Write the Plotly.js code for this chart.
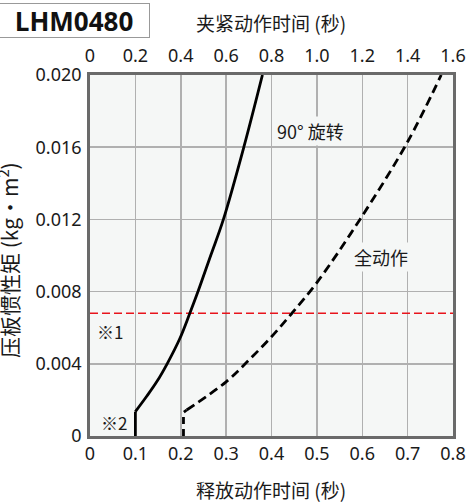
<!DOCTYPE html>
<html>
<head>
<meta charset="utf-8">
<script src="https://cdn.plot.ly/plotly-3.0.1.min.js"></script>
<style>html,body{margin:0;padding:0;background:#fff;}#chart{width:467px;height:502px;}</style>
</head>
<body>
<div id="chart"></div>
<script>
// Data (release time in seconds vs clamp arm inertia kg·m²)
const rotateStemX = [0.1, 0.1];
const rotateStemY = [0, 0.00135];
const rotateX = [0.1, 0.125, 0.147, 0.170, 0.198, 0.220, 0.238, 0.266, 0.294, 0.339, 0.380];
const rotateY = [0.00135, 0.0022, 0.0030, 0.0040, 0.0054, 0.0068, 0.0080, 0.0100, 0.0120, 0.0160, 0.0200];
const fullStemX = [0.206, 0.206, 0.213];
const fullStemY = [0, 0.0013, 0.00144];
const fullX = [0.213, 0.300, 0.350, 0.400, 0.445, 0.500, 0.595, 0.700, 0.774];
const fullY = [0.00144, 0.0030, 0.0042, 0.0055, 0.0068, 0.0085, 0.0120, 0.0163, 0.0200];
const limitY = 0.0068;
const limitX = [0, 0.8];

const bottomTicks = [0, 0.1, 0.2, 0.3, 0.4, 0.5, 0.6, 0.7, 0.8];
const bottomLabels = ["0", "0.1", "0.2", "0.3", "0.4", "0.5", "0.6", "0.7", "0.8"];
const topTicks = [0, 0.2, 0.4, 0.6, 0.8, 1.0, 1.2, 1.4, 1.6];
const topLabels = ["0", "0.2", "0.4", "0.6", "0.8", "1.0", "1.2", "1.4", "1.6"];
const yTicks = [0, 0.004, 0.008, 0.012, 0.016, 0.020];
const yLabels = ["0", "0.004", "0.008", "0.012", "0.016", "0.020"];

const FONT = "Noto Sans, Noto Sans CJK SC, sans-serif";
const CJK = "Noto Sans CJK SC, Noto Sans, sans-serif";
const BG = "#f5f7f6";
const INK = "#1a1a1a";

const traces = [
  {x: limitX, y: [limitY, limitY], mode: "lines", line: {color: "#e8141c", width: 1.3, dash: "8px,4px"}, hoverinfo: "skip"},
  {x: rotateStemX, y: rotateStemY, mode: "lines", line: {color: "#000", width: 2.8}},
  {x: rotateX, y: rotateY, mode: "lines", line: {color: "#000", width: 2.8, shape: "spline", smoothing: 1}},
  {x: fullStemX, y: fullStemY, mode: "lines", line: {color: "#000", width: 2.8, dash: "7px,5px"}},
  {x: fullX, y: fullY, mode: "lines", line: {color: "#000", width: 2.8, dash: "9px,5px", shape: "spline", smoothing: 1}},
  {x: [0], y: [0], xaxis: "x2", mode: "markers", marker: {opacity: 0}, hoverinfo: "skip"}
];

const axisLine = {showline: true, mirror: true, linecolor: "#6a6a6a", linewidth: 2.8};

const layout = {
  width: 467, height: 502,
  margin: {l: 90, r: 14, t: 75, b: 66, pad: 0},
  paper_bgcolor: "#fff",
  plot_bgcolor: BG,
  showlegend: false,
  font: {family: FONT, size: 18, color: INK},
  xaxis: Object.assign({
    range: [0, 0.8], tickvals: bottomTicks, ticktext: bottomLabels,
    showgrid: true, gridcolor: "#b0b0b0", gridwidth: 1.5, zeroline: false,
    ticks: "", tickfont: {family: FONT, size: 18, color: INK}
  }, axisLine),
  xaxis2: {
    range: [0, 1.6], overlaying: "x", side: "top", anchor: "y",
    tickvals: topTicks, ticktext: topLabels, showgrid: false, zeroline: false, showline: false,
    ticks: "outside", ticklen: 5, tickcolor: "rgba(0,0,0,0)", tickfont: {family: FONT, size: 18, color: INK}
  },
  yaxis: Object.assign({
    range: [0, 0.02], tickvals: yTicks, ticktext: yLabels,
    showgrid: true, gridcolor: "#b0b0b0", gridwidth: 1.5, zeroline: false,
    ticks: "outside", ticklen: 2, tickcolor: "rgba(0,0,0,0)", tickfont: {family: FONT, size: 18, color: INK}
  }, axisLine),
  annotations: [
    {xref: "paper", yref: "paper", x: (74 - 90) / 363, y: 1 + (75 - 20.5) / 361, xanchor: "center", yanchor: "middle",
     text: "<b>LHM0480</b>", showarrow: false, font: {family: "Open Sans, Noto Sans, sans-serif", size: 26, color: "#111"},
     bordercolor: "#999", borderwidth: 1, bgcolor: "#fff", width: 148, height: 31},
    {xref: "paper", yref: "paper", x: (271 - 90) / 363, y: 1 + (75 - 22) / 361, xanchor: "center", yanchor: "middle",
     text: "夹紧动作时间 (秒)", showarrow: false, font: {family: CJK, size: 19, color: INK}},
    {xref: "paper", yref: "paper", x: (271 - 90) / 363, y: -(489 - 436) / 361, xanchor: "center", yanchor: "middle",
     text: "释放动作时间 (秒)", showarrow: false, font: {family: CJK, size: 19, color: INK}},
    {xref: "paper", yref: "paper", x: (8 - 90) / 363, y: (436 - 260) / 361, xanchor: "center", yanchor: "middle",
     text: "压板惯性矩 (kg・m<sup>2</sup>)", textangle: -90, showarrow: false, font: {family: CJK, size: 21, color: INK}},
    {x: 0.485, y: 0.0169, text: "90° 旋转", showarrow: false, bgcolor: BG, font: {family: CJK, size: 18, color: INK}},
    {x: 0.642, y: 0.0099, text: "全动作", showarrow: false, bgcolor: BG, font: {family: CJK, size: 18, color: INK}},
    {x: 0.043, y: 0.0058, text: "※1", showarrow: false, font: {family: CJK, size: 17, color: INK}},
    {x: 0.052, y: 0.00075, text: "※2", showarrow: false, font: {family: CJK, size: 17, color: INK}}
  ]
};

Plotly.newPlot("chart", traces, layout, {displayModeBar: false, staticPlot: true});
</script>
</body>
</html>
